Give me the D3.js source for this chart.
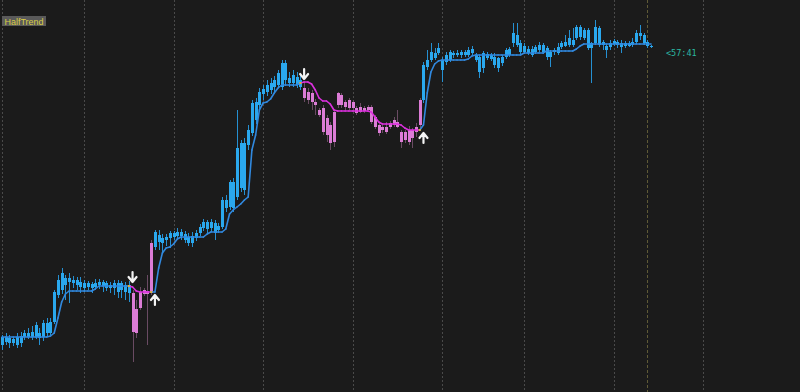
<!DOCTYPE html>
<html>
<head>
<meta charset="utf-8">
<script src="https://cdn.jsdelivr.net/npm/d3@7"></script>
<style>
  html, body { margin: 0; padding: 0; background: #1b1b1b; overflow: hidden; }
  #chart { width: 800px; height: 392px; }
</style>
</head>
<body>
<div id="chart"></div>
<script>
// candle prices (arbitrary price units)
const opens = [
  55,63,57,61,55,64,63,67,63,63, 67,63,77,67,78,105,110,122,118,120,
  115,118,112,117,112,113,115,118,117,112, 112,117,110,115,107,107,91,92,106,109,
  107,153,165,157,160,162,167,164,168,166, 163,157,162,167,172,178,172,177,170,173,
  200,193,218,203,257,210,255,267,298,295, 306,308,317,313,315,313,337,317,317,323,
  320,312,300,307,298,290,292,282,275,258, 295,305,298,292,298,292,288,292,290,293,
  283,275,270,273,273,275,278,268,260,270, 262,268,275,300,333,340,347,347,340,338,
  340,345,347,345,348,345,347,345,343,332, 346,341,343,332,343,343,345,357,365,357,
  348,351,345,348,350,355,352,343,348,347, 353,354,355,360,362,373,362,370,352,357,
  372,355,354,353,356,358,357,354,357,355, 358,364,365,358,354
];
const closes = [
  63,58,62,57,63,57,67,63,68,75, 62,77,67,78,108,120,127,115,122,117,
  120,113,117,113,116,117,118,114,112,115, 117,108,117,108,115,68,67,108,110,106,
  157,168,158,162,163,167,163,168,164,160, 157,164,167,173,178,171,178,167,174,200,
  192,218,192,252,212,257,270,297,280,308, 311,315,310,320,327,337,320,322,325,315,
  313,302,308,298,295,285,268,265,257,288, 307,295,293,300,292,287,293,289,293,278,
  273,267,273,268,277,280,273,258,268,258, 270,273,300,335,340,348,342,352,330,345,
  348,347,345,348,345,350,351,340,328,347, 342,345,335,342,337,350,351,367,355,348,
  354,347,351,353,355,348,343,348,350,353, 357,358,362,355,373,363,370,352,357,373,
  355,358,350,357,359,355,353,357,354,358, 367,367,357,354,353
];
const highs = [
  65,67,65,63,67,68,70,72,74,78, 72,80,82,82,110,125,132,125,127,124,
  123,123,120,119,118,121,121,120,119,118, 120,120,119,118,119,110,100,113,112,125,
  160,170,170,166,166,169,169,172,171,169, 167,168,170,176,181,180,181,180,177,203,
  205,220,222,290,260,262,275,300,302,312, 315,320,322,324,330,340,340,328,330,328,
  324,318,312,310,301,292,295,285,278,290, 308,307,300,302,300,294,297,294,295,295,
  285,277,275,278,279,283,290,270,270,274, 272,277,302,338,350,357,352,357,343,348,
  350,349,350,350,350,353,354,347,345,349, 348,347,347,343,345,352,353,377,377,360,
  357,354,354,355,358,357,354,350,352,357, 359,365,370,372,375,375,372,372,358,380,
  374,360,356,360,361,360,360,359,359,362, 370,375,367,360,355
];
const lows = [
  50,55,52,54,52,53,60,61,60,61, 55,59,64,65,76,102,106,100,97,112,
  110,107,108,110,107,110,111,108,109,107, 105,102,102,100,98,38,62,90,104,55,
  105,150,150,148,154,152,160,161,160,157, 154,153,159,164,169,167,168,160,167,171,
  188,190,188,200,208,205,250,264,276,290, 300,304,306,308,312,310,314,313,313,312,
  310,298,296,290,285,283,265,258,250,253, 292,292,290,290,288,285,287,287,288,276,
  271,264,267,266,271,273,272,252,257,255, 252,263,272,297,330,338,340,345,318,335,
  338,342,343,342,343,343,345,338,322,327, 340,339,332,328,334,341,343,353,353,346,
  346,345,343,346,348,346,340,333,345,345, 351,353,353,353,360,360,360,350,317,355,
  353,350,342,350,354,352,347,352,353,353, 356,360,355,352,352
];
// HalfTrend line value per candle
const halfTrend = [
  63,63,63,63,63,63,63,63,63,63, 63,63,63,64,67,82,98,106,109,109,
  109,109,109,109,109,111,114,114,114,114, 114,114,114,114,114,113,109,108,108,108,
  108,108,132,147,152,153,156,161,163,163, 163,163,163,163,163,166,168,168,168,168,
  171,186,190,193,196,200,203,250,265,290, 297,298,301,307,312,315,315,315,315,315,
  317,318,318,316,310,302,299,299,296,290, 289,289,289,289,289,289,289,289,289,288,
  283,278,276,276,276,276,276,275,272,270, 270,270,270,275,307,328,336,339,340,340,
  340,340,340,340,340,341,344,345,345,345, 345,345,345,345,345,345,345,345,345,345,
  347,347,347,347,347,347,349,349,349,349, 349,349,349,349,351,354,356,356,356,356,
  356,356,356,356,356,356,356,356,356,356, 356,356,356,356,356
];
// candle index ranges where the trend is down (inclusive)
const downRanges = [[35, 40], [81, 112]];
// vertical separators (candle index), current bar marker
const gridIdx = [0, 22, 46, 70, 94, 118, 140, 164, 188];
const nowIdx = 173;
const indicatorName = "HalfTrend";
const timerLabel = "<57:41";

const width = 800, height = 392;
const upCandle = "#2aa8ee", upWick = "#2590d2", upLine = "#3189df";
const dnCandle = "#dc7cd6", dnWick = "#6a4b63", dnLine = "#db30dd";

const n = closes.length;
const isDown = i => downRanges.some(r => i >= r[0] && i <= r[1]);

const x = d3.scaleLinear().domain([0, n - 1]).range([2, 651]);
const y = d3.scaleLinear().domain([0, 400]).range([400, 0]);
const px = v => Math.round(x(v));

const svg = d3.select("#chart").append("svg")
  .attr("width", width)
  .attr("height", height)
  .style("display", "block");

svg.append("rect").attr("width", width).attr("height", height).attr("fill", "#1b1b1b");

// dotted separators
svg.append("g").selectAll("line")
  .data(gridIdx)
  .enter()
  .append("line")
  .attr("x1", d => px(d) + 0.5)
  .attr("x2", d => px(d) + 0.5)
  .attr("y1", 0)
  .attr("y2", height)
  .attr("stroke", "#4a4a4a")
  .attr("stroke-width", 1)
  .attr("stroke-dasharray", "2,2");

svg.append("line")
  .attr("x1", px(nowIdx) + 0.5)
  .attr("x2", px(nowIdx) + 0.5)
  .attr("y1", 0)
  .attr("y2", height)
  .attr("stroke", "#5f5a36")
  .attr("stroke-width", 1)
  .attr("stroke-dasharray", "3,2");

const idx = d3.range(n);

// wicks
svg.append("g").selectAll("line")
  .data(idx)
  .enter()
  .append("line")
  .attr("x1", i => px(i) + 0.5)
  .attr("x2", i => px(i) + 0.5)
  .attr("y1", i => y(highs[i]))
  .attr("y2", i => y(lows[i]))
  .attr("stroke", i => isDown(i) ? dnWick : upWick)
  .attr("stroke-width", 1);

// bodies
svg.append("g").selectAll("rect")
  .data(idx)
  .enter()
  .append("rect")
  .attr("x", i => px(i) - 1)
  .attr("width", 3)
  .attr("y", i => y(Math.max(opens[i], closes[i])))
  .attr("height", i => Math.max(1, Math.abs(y(opens[i]) - y(closes[i]))))
  .attr("fill", i => isDown(i) ? dnCandle : upCandle);

// HalfTrend line, each segment coloured by the trend of its end candle
const line = d3.line()
  .x(i => x(i))
  .y(i => y(halfTrend[i]));

svg.append("g").selectAll("path")
  .data(d3.range(1, n))
  .enter()
  .append("path")
  .attr("d", i => line([i - 1, i]))
  .attr("fill", "none")
  .attr("stroke", i => isDown(i) ? dnLine : upLine)
  .attr("stroke-width", 1.6)
  .attr("stroke-linecap", "round");

// trend change arrows
const signals = [];
downRanges.forEach(r => {
  signals.push({ i: r[0], dir: "down" });
  if (r[1] + 1 < n) signals.push({ i: r[1] + 1, dir: "up" });
});

// small yellow tick on the line where the trend flips
svg.append("g").selectAll("rect")
  .data(signals)
  .enter()
  .append("rect")
  .attr("x", s => x(s.i - 1) - 1)
  .attr("y", s => y(halfTrend[s.i - 1]) - 1)
  .attr("width", 2)
  .attr("height", 2)
  .attr("fill", "#d6b23a");

svg.append("g").selectAll("path")
  .data(signals)
  .enter()
  .append("path")
  .attr("d", s => {
    const cx = x(s.i);
    const ref = y(halfTrend[s.i - 1]);
    if (s.dir === "down") {
      const tip = ref - 4;
      return `M${cx},${tip - 10}V${tip}M${cx - 4},${tip - 5}L${cx},${tip}L${cx + 4},${tip - 5}`;
    }
    const tip = ref + 3;
    return `M${cx},${tip + 10}V${tip}M${cx - 4},${tip + 5}L${cx},${tip}L${cx + 4},${tip + 5}`;
  })
  .attr("fill", "none")
  .attr("stroke", "#f4f4f4")
  .attr("stroke-width", 2.2)
  .attr("stroke-linecap", "round")
  .attr("stroke-linejoin", "round");

// indicator name tag
svg.append("rect")
  .attr("x", 2).attr("y", 16)
  .attr("width", 44).attr("height", 10)
  .attr("fill", "#5a5a5a");
svg.append("text")
  .attr("x", 24).attr("y", 24.5)
  .attr("text-anchor", "middle")
  .attr("font-family", "Liberation Sans, Arial, sans-serif")
  .attr("font-size", "9px")
  .attr("fill", "#d9cd45")
  .text(indicatorName);

// bar countdown
svg.append("text")
  .attr("x", 666).attr("y", 56)
  .attr("font-family", "DejaVu Sans Mono, monospace")
  .attr("font-size", "8.5px")
  .attr("fill", "#2bb8a2")
  .text(timerLabel);
</script>
</body>
</html>
